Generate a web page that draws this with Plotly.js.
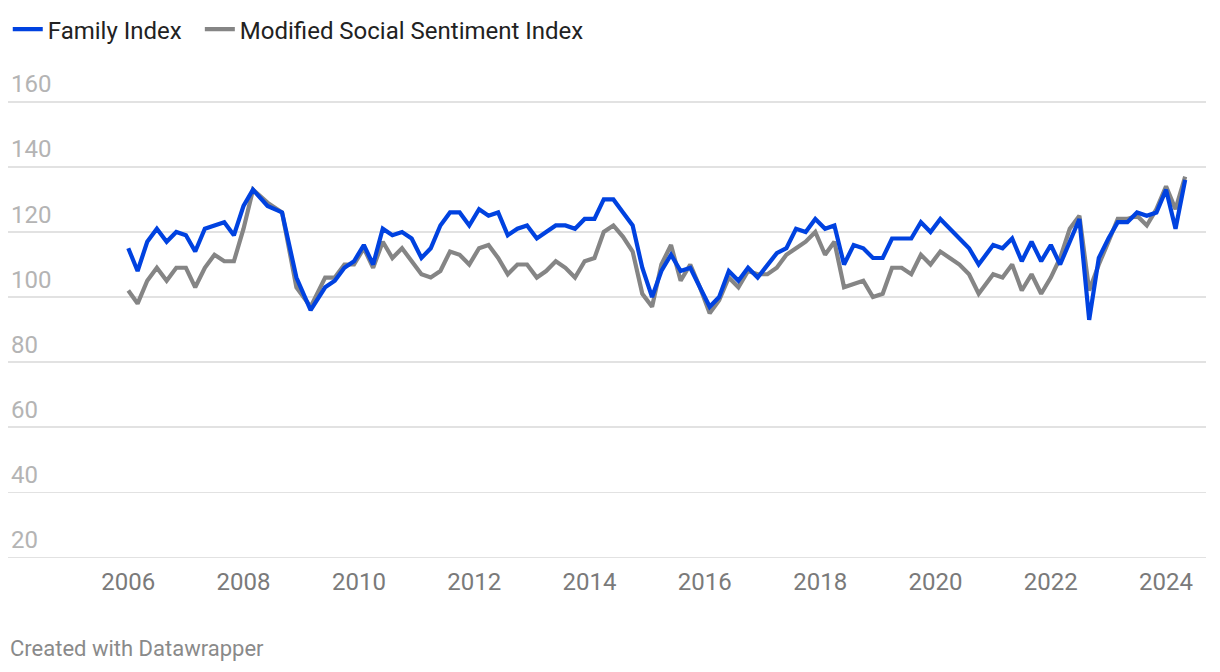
<!DOCTYPE html>
<html>
<head>
<meta charset="utf-8">
<script src="https://cdn.plot.ly/plotly-3.0.1.min.js"></script>
<style>
  html, body { margin: 0; padding: 0; background: #ffffff; }
  #chart { width: 1220px; height: 672px; }
</style>
</head>
<body>
<div id="chart"></div>
<script>
// Survey dates (mostly bimonthly, quarterly during 2008-2009)
const dates = ['2006-01','2006-03','2006-05','2006-07','2006-09','2006-11',
  '2007-01','2007-03','2007-05','2007-07','2007-09','2007-11',
  '2008-01','2008-03','2008-06','2008-09','2008-12',
  '2009-03','2009-06','2009-08','2009-10','2009-12',
  '2010-02','2010-04','2010-06','2010-08','2010-10','2010-12',
  '2011-02','2011-04','2011-06','2011-08','2011-10','2011-12',
  '2012-02','2012-04','2012-06','2012-08','2012-10','2012-12',
  '2013-02','2013-04','2013-06','2013-08','2013-10','2013-12',
  '2014-02','2014-04','2014-06','2014-08','2014-10','2014-12',
  '2015-02','2015-04','2015-06','2015-08','2015-10','2015-12',
  '2016-02','2016-04','2016-06','2016-08','2016-10','2016-12',
  '2017-02','2017-04','2017-06','2017-08','2017-10','2017-12',
  '2018-02','2018-04','2018-06','2018-08','2018-10','2018-12',
  '2019-02','2019-04','2019-06','2019-08','2019-10','2019-12',
  '2020-02','2020-04','2020-06','2020-08','2020-10',
  '2021-01','2021-03','2021-05','2021-07','2021-09','2021-11',
  '2022-01','2022-03','2022-05','2022-07','2022-09','2022-11',
  '2023-01','2023-03','2023-05','2023-07','2023-09','2023-11',
  '2024-01','2024-03','2024-05'];

const familyIndex = [115,108,117,121,117,120,
  119,114,121,122,123,119,
  128,133,128,126,106,
  96,103,105,109,111,
  116,110,121,119,120,118,
  112,115,122,126,126,122,
  127,125,126,119,121,122,
  118,120,122,122,121,124,
  124,130,130,126,122,109,
  100,108,113,108,109,103,
  97,100,108,105,109,106,
  110,113.5,115,121,120,124,
  121,122,110,116,115,112,
  112,118,118,118,123,120,
  124,121,118,115,110,
  116,115,118,111,117,111,
  116,110,117,124,93,112,
  118,123,123,126,125,126,
  133,121,136];

const socialSentiment = [102,98,105,109,105,109,
  109,103,109,113,111,111,
  121,133,129,126,103,
  97,106,106,110,110,
  115,109,117,112,115,111,
  107,106,108,114,113,110,
  115,116,112,107,110,110,
  106,108,111,109,106,111,
  112,120,122,118.5,114,101,
  97,110,116,105,110,103,
  95,99,106,103,108,107,
  107,109,113,115,117,120,
  113,117,103,104,105,100,
  101,109,109,107,113,110,
  114,112,110,107,101,
  107,106,110,102,107,101,
  106,112,121,125,102,110,
  117,124,124,125,122,127,
  134,127,137];

const seriesNames = ['Family Index', 'Modified Social Sentiment Index'];
const yTickVals = [20, 40, 60, 80, 100, 120, 140, 160];
const yTickText = ['20', '40', '60', '80', '100', '120', '140', '160'];
const footer = 'Created with Datawrapper';

const FONT = 'Roboto, "Noto Sans", Arial, sans-serif';

const traces = [
  {
    x: dates, y: socialSentiment, name: seriesNames[1], type: 'scatter', mode: 'lines',
    line: { color: '#858585', width: 4.2, shape: 'linear' },
    legend: 'legend2', hoverinfo: 'x+y+name'
  },
  {
    x: dates, y: familyIndex, name: seriesNames[0], type: 'scatter', mode: 'lines',
    line: { color: '#0042E0', width: 4.2, shape: 'linear' },
    legend: 'legend', hoverinfo: 'x+y+name'
  }
];

const legendCommon = {
  orientation: 'h', xref: 'container', yref: 'container',
  y: 0.9895, xanchor: 'left', yanchor: 'top',
  font: { family: FONT, size: 24, color: '#222222' },
  itemwidth: 30, tracegroupgap: 0, bgcolor: 'rgba(0,0,0,0)'
};

const layout = {
  width: 1220, height: 672,
  paper_bgcolor: '#ffffff', plot_bgcolor: '#ffffff',
  font: { family: FONT, color: '#333333' },
  margin: { l: 8, r: 14, t: 53, b: 113, pad: 0 },
  showlegend: true,
  legend: Object.assign({}, legendCommon, { x: 0.00636 }),
  legend2: Object.assign({}, legendCommon, { x: 0.1638 }),
  xaxis: {
    type: 'date',
    range: ['2003-12-01', '2024-09-10'],
    tick0: '2006-01-01', dtick: 'M24', tickformat: '%Y',
    showgrid: false, zeroline: false, showline: false,
    ticks: '', ticklabelstandoff: 6,
    tickfont: { family: FONT, size: 24, color: '#7a7a7a' },
    fixedrange: true
  },
  yaxis: {
    range: [19.5, 175],
    tickmode: 'array', tickvals: yTickVals, ticktext: yTickText,
    ticklabelposition: 'inside top', ticklabelshift: -1,
    showgrid: true, gridcolor: '#e2e2e2', gridwidth: 1.5,
    zeroline: false, showline: false, ticks: '',
    tickfont: { family: FONT, size: 24, color: '#b4b4b4' },
    fixedrange: true
  },
  annotations: [
    {
      text: footer, xref: 'paper', yref: 'paper', x: 0, y: 0,
      xanchor: 'left', yanchor: 'middle', xshift: 0, yshift: -89,
      showarrow: false, font: { family: FONT, size: 22, color: '#8a8a8a' }
    }
  ]
};

Plotly.newPlot('chart', traces, layout, { displayModeBar: false, staticPlot: true });
</script>
</body>
</html>
